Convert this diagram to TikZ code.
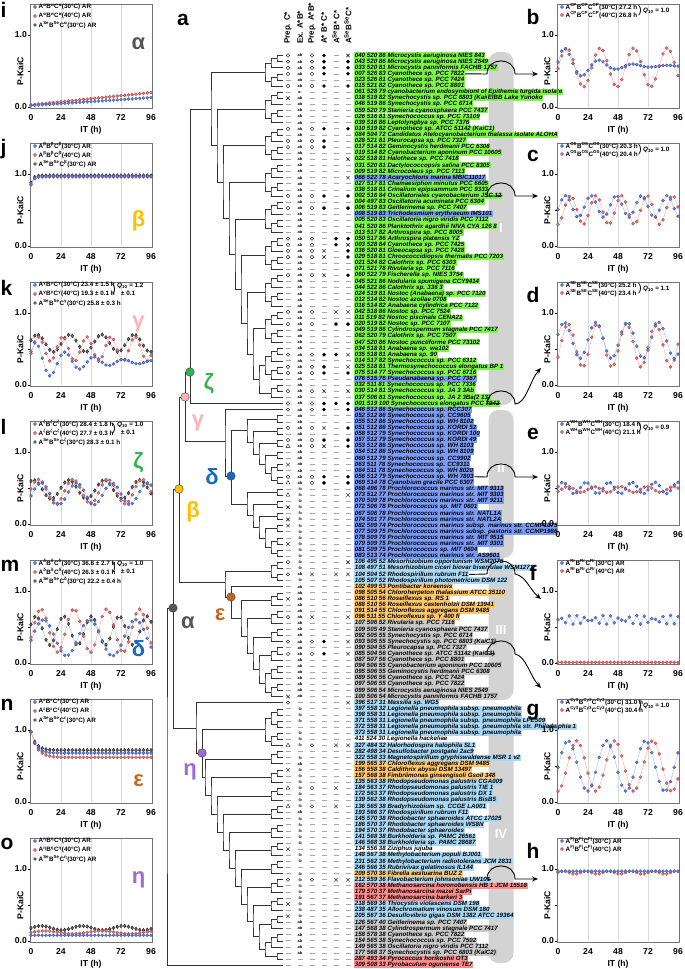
\documentclass[tikz,border=0pt]{standalone}
\usepackage{fontspec}
\setmainfont{Liberation Sans}
\usetikzlibrary{calc,positioning,arrows.meta,shapes.misc,shapes.geometric,plotmarks}
\definecolor{bgG}{HTML}{7DF547}
\definecolor{bgB}{HTML}{7B9BF5}
\definecolor{bgL}{HTML}{A9D8F5}
\definecolor{bgO}{HTML}{FFC76B}
\definecolor{bgY}{HTML}{C9C9C9}
\definecolor{bgR}{HTML}{FF8C8C}
\definecolor{bgW}{HTML}{FFFFFF}
\definecolor{kaiblue}{HTML}{5B7FE6}
\definecolor{kaired}{HTML}{F06A6A}
\definecolor{kaigrey}{HTML}{606060}
\definecolor{alphac}{HTML}{555555}
\definecolor{betac}{HTML}{FFBE00}
\definecolor{gammac}{HTML}{FFB3B8}
\definecolor{deltac}{HTML}{1768C2}
\definecolor{epsc}{HTML}{C8641E}
\definecolor{zetac}{HTML}{2DB44B}
\definecolor{etac}{HTML}{9B6BD6}
\definecolor{barg}{HTML}{D3D3D3}
\def\leafx{283}
\def\rowtop{55.5}
\def\rowgap{6.105}
\def\cladestep{6}
\def\symta{ab}
\def\symtb{-b}
\def\symtc{a-}
\newcommand\su[1]{\textsuperscript{#1}}
\newcommand\qten{\textit{Q}\textsubscript{10}}
% tree helpers: leaves on the right, one row each
\newcommand\leaf[1]{%
  \coordinate (n#1-#1) at (\leafx,{\rowtop+\rowgap*(#1-1)});%
  \expandafter\xdef\csname h#1-#1\endcsname{0}}
\newcommand\join[4]{%
  \pgfmathtruncatemacro\hh{max(\csname h#1-#2\endcsname,\csname h#3-#4\endcsname)+1}%
  \expandafter\xdef\csname h#1-#4\endcsname{\hh}%
  \pgfmathsetmacro\cx{\leafx-\cladestep*\hh}%
  \path let \p1=($(n#1-#2)!.5!(n#3-#4)$) in (\cx pt,\y1) coordinate (n#1-#4);%
  \draw[tree] (n#1-#2) -| (n#1-#4) |- (n#3-#4);}
\newcommand\clade[2]{%
  \ifnum#1=#2\relax \leaf{#1}\else
    \begingroup
    \pgfmathtruncatemacro\ca{floor((#1+#2)/2)}%
    \pgfmathtruncatemacro\cb{\ca+1}%
    \edef\next{\noexpand\clade{#1}{\ca}\noexpand\clade{\cb}{#2}\noexpand\join{#1}{\ca}{\cb}{#2}}\next
    \endgroup
  \fi}
\newcommand\ladder[3]{%
  \ifnum#1=#2\relax \leaf{#1}\else
    \begingroup
    \pgfmathtruncatemacro\ca{min(#1+#3-1,#2-1)}%
    \pgfmathtruncatemacro\cb{\ca+1}%
    \edef\next{\noexpand\clade{#1}{\ca}\noexpand\ladder{\cb}{#2}{#3}\noexpand\join{#1}{\ca}{\cb}{#2}}\next
    \endgroup
  \fi}
% axes of one kinetics panel
\newcommand\panelframe{%
  \foreach \t in {24,48,72} \draw[gridl] (\t,0) -- (\t,1.42);
  \draw[draw=black!55,line width=.5pt] (-1,-.02) rectangle (97,1.43);
  \foreach \v in {0,.5,1} \draw[line width=.5pt] (-1,\v) -- (-2.6,\v);
  \foreach \t in {0,24,48,72,96} \node[tickl,anchor=north] at (\t,-.09) {\t};
  \node[tickl,anchor=east] at (-2.4,0) {0.0};
  \node[tickl,anchor=east] at (-2.4,1) {1.0};
  \node[tickl] at (48,-.32) {IT (h)};
  \node[tickl,rotate=90] at (-8.5,.5) {P-KaiC};
}

\begin{document}
\begin{tikzpicture}[x=1pt,y=-1pt,>=Stealth,
  tree/.style={draw=black!80,line width=.45pt},
  dot/.style={circle,draw=black!75,line width=.4pt,fill=#1,minimum size=8.5pt,inner sep=0pt},
  greek/.style={text=#1,font=\fontsize{22}{22}\selectfont\bfseries,inner sep=0pt},
  taxon/.style={anchor=west,inner xsep=.6pt,inner ysep=.2pt,text height=4.5pt,text depth=1.2pt,
    font=\fontsize{6.2}{6.2}\selectfont\bfseries\itshape},
  head/.style={rotate=90,anchor=west,inner sep=0pt,font=\fontsize{8}{8}\selectfont\bfseries},
  seg/.style={fill=barg,rounded corners=10pt},
  roman/.style={text=white,inner sep=0pt,font=\fontsize{13}{13}\selectfont\bfseries},
  sym o/.style={circle,draw,line width=.35pt,minimum size=3.6pt,inner sep=0pt},
  sym f/.style={circle,fill,minimum size=3.8pt,inner sep=0pt},
  sym x/.style={cross out,draw,line width=.4pt,minimum size=3pt,inner sep=0pt},
  sym t/.style={regular polygon,regular polygon sides=3,draw,line width=.35pt,minimum size=4.6pt,inner sep=0pt},
  sym d/.style={rectangle,fill=gray!70,minimum width=5pt,minimum height=.6pt,inner sep=0pt},
  sym a/.style={inner sep=0pt,font=\fontsize{4}{4}\selectfont\bfseries},
  sym b/.style={inner sep=0pt,font=\fontsize{4}{4}\selectfont\bfseries},
  sym c/.style={inner sep=0pt,font=\fontsize{4}{4}\selectfont\bfseries},
  plab/.style={font=\fontsize{21}{21}\selectfont\bfseries,inner sep=0pt},
  tickl/.style={font=\fontsize{8.6}{9}\selectfont\bfseries,inner sep=1pt},
  leg/.style={anchor=west,inner sep=0pt,font=\fontsize{6.3}{6.3}\selectfont\bfseries},
  brace/.style={inner sep=0pt,font=\fontsize{11}{11}\selectfont},
  gridl/.style={draw=black!15,line width=.8pt},
  bser/.style={draw=kaiblue!55,line width=.4pt,mark=*,mark size=1.6pt,mark options={fill=kaiblue,draw=kaiblue!60!black,line width=.2pt}},
  rser/.style={draw=kaired!60,line width=.4pt,mark=*,mark size=1.6pt,mark options={fill=kaired,draw=kaired!60!black,line width=.2pt}},
  gser/.style={draw=kaigrey!50,line width=.4pt,mark=diamond*,mark size=1.9pt,mark options={fill=kaigrey,draw=black,line width=.2pt}},
  bmark/.style={circle,fill=kaiblue,draw=kaiblue!60!black,line width=.2pt,minimum size=3.4pt,inner sep=0pt},
  rmark/.style={circle,fill=kaired,draw=kaired!60!black,line width=.2pt,minimum size=3.4pt,inner sep=0pt},
  gmark/.style={diamond,fill=kaigrey,minimum size=4pt,inner sep=0pt},
  link/.style={draw=black,line width=.9pt,-{Stealth[length=6pt,width=5pt]}}]
\useasboundingbox (0,0) rectangle (685,969);

% grey bar with the four groups
\foreach \rn/\ya/\yb/\yr in {I/52/405/228,II/410/558/468,III/564/700/630,IV/706/963/834}{
  \fill[seg] (488.5,\ya) rectangle (513.5,\yb);
  \node[roman] (grp\rn) at (501,\yr) {\rn};
}

% column heads
\node[plab] (laba) at (183,20) {a};
\foreach \hx/\htext in {288/{Prep. C*},300/{Ex. A*B*},312/{Prep. A*B*},324/{A* B* C*},336/{A\su{Se}B* C*},348/{A\su{Se}B\su{Se}C*}}
  \node[head] at (\hx,44) {\htext};

% taxa, kai genes and the highlights
\foreach \bg/\sy/\tx [count=\r] in {
 G/{o,a,o,f,d,x}/{040 520 86 Microcystis aeruginosa NIES 843},
 G/{o,a,o,f,d,f}/{043 520 86 Microcystis aeruginosa NIES 2549},
 G/{o,a,o,f,d,f}/{033 520 81 Microcystis panniformis FACHB 1757},
 G/{o,a,o,f,d,f}/{007 526 83 Cyanothece sp. PCC 7822},
 G/{d,a,d,d,d,d}/{023 526 81 Cyanothece sp. PCC 7424},
 G/{o,a,o,f,d,f}/{015 521 82 Cyanothece sp. PCC 8801},
 G/{d,c,d,d,d,d}/{061 528 79 cyanobacterium endosymbiont of Epithemia turgida isolate},
 G/{x,a,d,d,d,d}/{018 519 82 Synechocystis sp. PCC 6803 (KaiC1)},
 G/{d,a,d,d,d,d}/{046 519 86 Synechocystis sp. PCC 6714},
 G/{d,a,d,d,d,d}/{059 520 79 Stanieria cyanosphaera PCC 7437},
 G/{d,a,d,d,d,d}/{026 516 81 Synechococcus sp. PCC 73109},
 G/{d,a,d,d,d,d}/{039 516 86 Leptolyngbya sp. PCC 7376},
 G/{o,a,o,f,d,f}/{010 519 82 Cyanothece sp. ATCC 51142 (KaiC1)},
 G/{d,a,d,d,d,d}/{084 504 72 Candidatus Atelocyanobacterium thalassa isolate ALOHA},
 G/{o,a,o,f,d,d}/{028 521 81 Pleurocapsa sp. PCC 7327},
 G/{o,a,o,f,d,d}/{017 514 82 Geminocystis herdmanii PCC 6308},
 G/{d,a,d,d,d,d}/{019 514 82 Cyanobacterium aponinum PCC 10605},
 G/{d,a,d,d,d,x}/{022 518 81 Halothece sp. PCC 7418},
 G/{d,a,d,d,d,d}/{031 520 81 Dactylococcopsis salina PCC 8305},
 G/{d,a,d,d,d,d}/{009 519 82 Microcoleus sp. PCC 7113},
 B/{d,a,d,d,d,x}/{066 522 78 Acaryochloris marina MBIC11017},
 G/{d,a,d,d,d,d}/{027 517 81 Chamaesiphon minutus PCC 6605},
 G/{d,a,d,d,d,d}/{038 518 81 Crinalium epipsammum PCC 9333},
 G/{o,a,o,f,d,f}/{002 516 84 Oscillatoriales cyanobacterium JSC 12},
 G/{d,a,d,d,d,d}/{004 497 83 Oscillatoria acuminata PCC 6304},
 G/{o,a,o,f,d,f}/{006 519 83 Geitlerinema sp. PCC 7407},
 B/{d,a,d,d,d,d}/{008 519 83 Trichodesmium erythraeum IMS101},
 G/{d,a,d,d,d,d}/{005 520 83 Oscillatoria nigro viridis PCC 7112},
 G/{d,a,d,d,d,d}/{041 520 86 Planktothrix agardhii NIVA CYA 126 8},
 G/{d,a,d,d,d,d}/{013 517 82 Arthrospira sp. PCC 8005},
 G/{o,a,o,d,f,f}/{050 517 86 Arthrospira platensis YZ},
 G/{o,a,o,d,f,x}/{003 528 84 Cyanothece sp. PCC 7425},
 G/{o,a,o,x,d,f}/{036 520 81 Gloeocapsa sp. PCC 7428},
 G/{o,a,o,x,d,f}/{029 518 81 Chroococcidiopsis thermalis PCC 7203},
 G/{d,a,d,d,d,d}/{021 524 82 Calothrix sp. PCC 6303},
 G/{d,a,d,d,d,d}/{071 521 78 Rivularia sp. PCC 7116},
 G/{o,a,o,x,d,f}/{060 522 79 Fischerella sp. NIES 3754},
 G/{d,a,d,d,d,d}/{045 521 86 Nodularia spumigena CCY9414},
 G/{d,a,d,d,d,d}/{044 522 86 Calothrix sp. 336 3},
 G/{d,a,d,d,d,d}/{024 519 81 Nostoc (Anabaena) sp. PCC 7120},
 G/{d,a,d,d,d,d}/{012 514 82 Nostoc azollae 0708},
 G/{d,a,d,d,d,d}/{016 514 82 Anabaena cylindrica PCC 7122},
 G/{o,a,o,d,x,x}/{042 518 86 Nostoc sp. PCC 7524},
 G/{d,a,d,d,d,d}/{011 519 82 Nostoc piscinale CENA21},
 G/{o,a,o,d,f,f}/{020 519 82 Nostoc sp. PCC 7107},
 G/{d,a,d,d,d,d}/{049 519 86 Cylindrospermum stagnale PCC 7417},
 G/{d,a,d,d,d,d}/{062 520 79 Calothrix sp. PCC 7507},
 G/{d,a,d,d,d,d}/{047 520 86 Nostoc punctiforme PCC 73102},
 G/{d,a,d,d,d,d}/{034 518 81 Anabaena sp. wa102},
 G/{o,a,o,f,f,x}/{035 518 81 Anabaena sp. 90},
 G/{d,a,d,d,d,d}/{014 517 82 Synechococcus sp. PCC 6312},
 G/{o,a,o,f,d,x}/{025 518 81 Thermosynechococcus elongatus BP 1},
 G/{o,a,o,f,d,f}/{075 514 77 Synechococcus sp. PCC 6716},
 B/{d,a,d,d,d,d}/{076 515 76 Pseudanabaena sp. PCC 7367},
 G/{d,a,d,d,d,d}/{032 511 81 Synechococcus sp. PCC 7336},
 G/{o,a,o,x,d,x}/{030 514 81 Synechococcus sp. JA 3 3Ab},
 G/{d,a,d,d,d,d}/{037 506 81 Synechococcus sp. JA 2 3Ba(2 13)},
 G/{o,a,o,f,f,f}/{001 519 100 Synechococcus elongatus PCC 7942},
 B/{o,a,o,f,d,f}/{046 512 86 Synechococcus sp. RCC307},
 B/{d,a,d,d,d,d}/{052 512 86 Synechococcus sp. CC9605},
 B/{d,a,d,d,d,d}/{055 512 86 Synechococcus sp. WH 8102},
 B/{o,a,o,x,d,f}/{051 512 86 Synechococcus sp. KORDI 52},
 B/{d,a,d,d,d,d}/{058 512 79 Synechococcus sp. KORDI 100},
 B/{o,a,o,f,d,f}/{057 512 79 Synechococcus sp. KORDI 49},
 B/{t,a,o,x,d,f}/{053 512 86 Synechococcus sp. WH 8103},
 B/{d,a,d,d,d,d}/{054 512 86 Synechococcus sp. WH 8109},
 B/{d,a,d,d,d,d}/{060 512 79 Synechococcus sp. CC9902},
 B/{x,a,d,d,d,d}/{063 511 78 Synechococcus sp. CC9311},
 B/{d,a,d,d,d,d}/{064 511 78 Synechococcus sp. WH 8020},
 B/{o,a,o,f,d,f}/{056 512 79 Synechococcus sp. WH 7803},
 B/{t,a,o,f,d,f}/{069 514 78 Cyanobium gracile PCC 6307},
 B/{d,b,d,d,d,d}/{068 496 78 Prochlorococcus marinus str. MIT 9313},
 B/{t,b,d,d,d,x}/{073 512 77 Prochlorococcus marinus str. MIT 9303},
 B/{d,b,d,d,d,d}/{070 509 78 Prochlorococcus marinus str. MIT 9211},
 B/{x,b,d,d,d,d}/{072 506 78 Prochlorococcus sp. MIT 0601},
 B/{d,b,d,d,d,d}/{067 506 78 Prochlorococcus marinus str. NATL1A},
 B/{x,b,d,d,d,d}/{074 501 77 Prochlorococcus marinus str. NATL2A},
 B/{x,b,d,d,d,d}/{082 509 74 Prochlorococcus marinus subsp. marinus str. CCMP1375},
 B/{d,b,d,d,d,d}/{077 509 75 Prochlorococcus marinus subsp. pastoris str. CCMP1986},
 B/{d,b,d,d,d,d}/{078 509 76 Prochlorococcus marinus str. MIT 9515},
 B/{x,b,d,d,d,d}/{079 509 75 Prochlorococcus marinus str. MIT 9301},
 B/{d,b,d,d,d,d}/{081 509 75 Prochlorococcus sp. MIT 0604},
 B/{d,b,d,d,d,d}/{083 513 74 Prochlorococcus marinus str. AS9601},
 L/{o,b,d,d,d,x}/{106 495 52 Mesorhizobium opportunism WSM2075},
 L/{d,b,d,d,d,d}/{108 497 51 Mesorhizobium ciceri biovar biserrulae WSM1271},
 L/{o,a,x,d,x,x}/{104 504 52 Rhodospirillum rubrum F11},
 L/{d,b,d,d,d,d}/{105 507 52 Rhodospirillum photometricum DSM 122},
 O/{d,a,d,d,d,d}/{102 499 53 Pontibacter koreensis},
 O/{d,a,d,d,d,d}/{098 505 54 Chloroherpeton thalassium ATCC 35110},
 O/{x,a,d,d,d,d}/{086 510 56 Roseiflexus sp. RS 1},
 O/{d,a,d,d,d,d}/{088 510 56 Roseiflexus castenholzii DSM 13941},
 O/{d,a,d,d,d,d}/{091 514 55 Chloroflexus aggregans DSM 9485},
 O/{o,a,x,d,d,x}/{096 511 55 Chloroflexus sp. Y 400 fl},
 Y/{d,a,d,d,d,d}/{107 506 52 Rivularia sp. PCC 7116},
 Y/{d,a,d,d,d,d}/{109 505 49 Stanieria cyanosphaera PCC 7437},
 Y/{d,a,d,d,d,d}/{092 505 55 Synechocystis sp. PCC 6714},
 Y/{o,a,o,f,d,x}/{093 505 55 Synechocystis sp. PCC 6803 (KaiC3)},
 Y/{d,a,d,d,d,d}/{090 504 55 Pleurocapsa sp. PCC 7327},
 Y/{o,a,o,f,d,x}/{085 504 56 Cyanothece sp. ATCC 51142 (KaiC3)},
 Y/{d,a,d,d,d,d}/{087 507 56 Cyanothece sp. PCC 8801},
 Y/{d,a,d,d,d,d}/{094 506 55 Cyanobacterium aponinum PCC 10605},
 Y/{d,a,d,d,d,d}/{095 506 55 Geminocystis herdmanii PCC 6308},
 Y/{d,a,d,d,d,d}/{089 506 56 Cyanothece sp. PCC 7424},
 Y/{d,a,d,d,d,d}/{097 506 55 Cyanothece sp. PCC 7822},
 Y/{d,a,d,d,d,d}/{099 506 54 Microcystis aeruginosa NIES 2549},
 Y/{x,a,d,d,d,d}/{100 506 54 Microcystis panniformis FACHB 1757},
 L/{o,d,d,d,d,x}/{396 517 31 Massilia sp. WG5},
 L/{d,b,d,d,d,d}/{397 558 32 Legionella pneumophila subsp. pneumophila},
 L/{d,b,d,d,d,d}/{398 558 31 Legionella pneumophila subsp. pneumophila},
 L/{d,b,d,d,d,d}/{371 558 31 Legionella pneumophila subsp. pneumophila LPE509},
 L/{d,d,d,d,d,d}/{372 558 31 Legionella pneumophila subsp. pneumophila str. Philadelphia 1},
 L/{d,b,d,d,d,d}/{373 558 31 Legionella pneumophila subsp. pneumophila},
 W/{d,b,d,d,d,d}/{411 524 30 Legionella hackeliae},
 L/{t,b,o,d,x,x}/{327 484 32 Halorhodospira halophila SL1},
 L/{d,d,d,d,d,d}/{282 498 34 Desulfobacter postgatei 2ac9},
 L/{d,b,d,d,d,d}/{322 558 33 Magnetospirillum gryphiswaldense MSR 1 v2},
 O/{d,a,d,d,d,d}/{199 565 37 Chloroflexus aggregans DSM 9485},
 O/{x,b,d,d,d,d}/{156 558 38 Caldithrix abyssi DSM 13497},
 O/{d,b,d,d,d,d}/{157 568 38 Fimbriimonas ginsengisoli Gsoil 348},
 L/{d,b,d,d,d,d}/{135 563 38 Rhodopseudomonas palustris CGA009},
 L/{t,b,o,d,x,d}/{184 563 37 Rhodopseudomonas palustris TIE 1},
 L/{d,b,d,d,d,d}/{172 563 37 Rhodopseudomonas palustris DX 1},
 L/{d,b,d,d,d,d}/{139 562 38 Rhodopseudomonas palustris BisB5},
 L/{t,b,o,d,x,d}/{136 565 38 Bradyrhizobium sp. CCGE LA001},
 L/{d,a,d,d,d,d}/{193 566 37 Rhodospirillum rubrum F11},
 L/{d,b,d,d,d,d}/{145 570 38 Rhodobacter sphaeroides ATCC 17025},
 L/{d,b,d,d,d,d}/{186 570 37 Rhodobacter sphaeroides WS8N},
 L/{d,b,d,d,d,d}/{194 570 37 Rhodobacter sphaeroides},
 L/{d,b,d,d,d,d}/{141 568 38 Burkholderia sp. PAMC 26561},
 L/{d,b,d,d,d,d}/{146 568 38 Burkholderia sp. PAMC 28687},
 W/{x,d,d,d,d,d}/{134 556 38 Ziziphus jujuba},
 L/{d,b,d,d,d,d}/{148 567 38 Methylobacterium populi BJ001},
 L/{d,b,d,d,d,d}/{231 562 36 Methylobacterium radiotolerans JCM 2831},
 L/{d,d,d,d,d,d}/{246 566 35 Rubrivivax gelatinosus IL144},
 O/{d,b,d,d,d,d}/{209 570 36 Fibrella aestuarina BUZ 2},
 L/{o,b,o,d,x,x}/{212 559 36 Flavobacterium johnsoniae UW101},
 R/{d,b,d,d,d,d}/{162 570 38 Methanosarcina horonobensis HB 1 JCM 15518},
 R/{d,b,d,d,d,d}/{179 570 37 Methanosarcina mazei SarPi},
 R/{d,b,d,d,d,d}/{191 567 37 Methanosarcina barkeri 3},
 L/{x,b,d,d,d,d}/{218 569 36 Thiocystis violascens DSM 198},
 L/{d,b,d,d,d,d}/{238 487 35 Allochromatium vinosum DSM 180},
 L/{x,b,d,d,d,d}/{205 567 36 Desulfovibrio gigas DSM 1382 ATCC 19364},
 Y/{d,a,d,d,d,d}/{126 567 40 Geitlerinema sp. PCC 7407},
 Y/{d,a,d,d,d,d}/{147 568 38 Cylindrospermum stagnale PCC 7417},
 Y/{d,a,d,d,d,d}/{158 578 38 Cyanothece sp. PCC 7822},
 Y/{d,a,d,d,d,d}/{154 565 38 Synechococcus sp. PCC 7502},
 Y/{d,a,d,d,d,d}/{149 565 38 Oscillatoria nigro viridis PCC 7112},
 Y/{d,a,d,d,d,d}/{177 568 37 Synechocystis sp. PCC 6803 (KaiC2)},
 R/{d,d,d,d,d,d}/{287 493 34 Pyrococcus horikoshii OT3},
 R/{d,d,d,d,d,d}/{309 508 33 Pyrobaculum oguniense TE7}}{
  \pgfmathsetmacro\yy{\rowtop+\rowgap*(\r-1)}
  \node[taxon,fill=bg\bg] (t\r) at (354,\yy) {\tx};
  \foreach \s [count=\c] in \sy {
    \pgfmathsetmacro\xx{{288,300,312,324,336,348}[\c-1]}
    \node[sym \s] (s\r-\c) at (\xx,\yy) {\csname symt\s\endcsname};
  }
}
\node[taxon,fill=bgG] (t8b) at (487,{\rowtop+\rowgap*7}) {EIBB Lake Yunoko};

% tree
\ladder{1}{57}{6}\leaf{58}\leaf{59}
\ladder{60}{71}{2}\ladder{72}{83}{2}
\clade{84}{87}\leaf{88}\ladder{89}{106}{3}
\leaf{107}\clade{108}{114}\ladder{115}{149}{3}\leaf{150}
\node[dot=zetac] (zeta) at (190,372) {};
\node[dot=gammac] (gamma) at (185,397) {};
\coordinate (d0) at (225,441);
\node[dot=deltac] (delta) at (231,476) {};
\node[dot=betac] (beta) at (179,489) {};
\coordinate (p0) at (225,582);
\node[dot=epsc] (eps) at (231,597) {};
\node[dot=alphac] (alpha) at (173,608) {};
\coordinate (q0) at (196,728);
\node[dot=etac] (eta) at (202,753) {};
\coordinate (root) at (167,784);
\draw[tree] (n1-57) -| (zeta) |- (n58-58);
\draw[tree] (zeta) -| (gamma) |- (d0);
\draw[tree] (n59-59) -| (d0) |- (delta);
\draw[tree] (n60-71) -| (delta) |- (n72-83);
\draw[tree] (gamma) -| (beta) |- (p0);
\draw[tree] (n84-87) -| (p0) |- (eps);
\draw[tree] (n88-88) -| (eps) |- (n89-106);
\draw[tree] (beta) -| (alpha) |- (q0);
\draw[tree] (n107-107) -| (q0) |- (eta);
\draw[tree] (n108-114) -| (eta) |- (n115-149);
\draw[tree] (alpha) -| (root) |- (n150-150);
\node[greek=zetac] (zetalab) at (209,384) {ζ};
\node[greek=gammac] (gammalab) at (198,423) {γ};
\node[greek=deltac] (deltalab) at (212,477) {δ};
\node[greek=betac] (betalab) at (193,512) {β};
\node[greek=epsc] (epslab) at (220,615) {ε};
\node[greek=alphac] (alphalab) at (188,623) {α};
\node[greek=etac] (etalab) at (190,772) {η};

% links to the kinetics panels
\coordinate (tob) at (538,74);
\coordinate (toc) at (538,196);
\coordinate (tod) at (541,368);
\coordinate (toe) at (538,477);
\coordinate (tof) at (541,599);
\coordinate (tog) at (541,688);
\coordinate (toh) at (538,879);
\draw[link] (t4.east) -- (487,74) to[out=90,in=90,looseness=1.6] (515,74) -- (tob);
\draw[link] (t24.east) -- (487,196) to[out=90,in=90,looseness=1.6] (515,196) -- (toc);
\draw[link] (t58.east) -- (487,404) to[out=90,in=90,looseness=1.6] (515,404) .. controls (526,404) and (530,380) .. (tod);
\draw[link] (t70.east) -- (487,477) to[out=90,in=90,looseness=1.6] (515,477) -- (toe);
\draw[link] (t86.east) -- (487,574) to[out=90,in=90,looseness=1.6] (515,574) .. controls (526,576) and (530,590) .. (tof);
\draw[link] (t99.east) -- (487,654) to[out=90,in=90,looseness=1.6] (515,654) .. controls (526,656) and (530,676) .. (tog);
\draw[link] (t136.east) -- (487,879) to[out=90,in=90,looseness=1.6] (515,879) -- (toh);

% left column of panels
\foreach \k/\lab in {0/i,1/j,2/k,3/l,4/m,5/n,6/o}{
  \pgfmathsetmacro\yo{107+139*\k}
  \node[plab,anchor=west] (p\lab) at (0.5,\yo-97) {\lab};
  \begin{scope}[shift={(31,\yo)},x=1.25pt,y=72pt]
    \panelframe
  \end{scope}
}
% right column of panels
\foreach \k/\lab in {0/b,1/c,2/d,3/e,4/f,5/g,6/h}{
  \pgfmathsetmacro\yo{107+139*\k}
  \node[plab] (p\lab) at (533,\yo-90) {\lab};
  \begin{scope}[shift={(558,\yo)},x=1.25pt,y=72pt]
    \panelframe
  \end{scope}
}

% data, left
\begin{scope}[shift={(31,107)},x=1.25pt,y=72pt]
  \draw[rser] plot[domain=0:96,samples=33] (\x,{0.03+0.17*\x/96});
  \draw[bser] plot[domain=0:96,samples=33] (\x,{0.02+0.11*\x/96});
  \node[greek=alphac] at (86,.88) {α};
\end{scope}
\begin{scope}[shift={(31,246)},x=1.25pt,y=72pt]
  \draw[gser] plot[domain=0:96,samples=33] (\x,{0.98-0.1*exp(-\x/2)});
  \draw[rser] plot[domain=0:96,samples=33] (\x,{0.96-0.1*exp(-\x/2)});
  \draw[bser] plot[domain=0:96,samples=33] (\x,{0.97-0.12*exp(-\x/2)});
  \node[greek=betac] at (86,.35) {β};
\end{scope}
\begin{scope}[shift={(31,385)},x=1.25pt,y=72pt]
  \draw[gser] plot[domain=0:96,samples=33] (\x,{0.58+0.12*cos((\x-5)*13.95)});
  \draw[rser] plot[domain=0:96,samples=33] (\x,{0.5+0.17*cos((\x-6)*18.65)});
  \draw[bser] plot[domain=0:96,samples=33] (\x,{0.32+0.3*exp(-\x/35)*cos((\x-4)*15.38)});
  \node[greek=gammac] at (86,.85) {γ};
\end{scope}
\begin{scope}[shift={(31,524)},x=1.25pt,y=72pt]
  \draw[gser] plot[domain=0:96,samples=33] (\x,{0.48+0.13*cos((\x-2)*12.72)});
  \draw[rser] plot[domain=0:96,samples=33] (\x,{0.45+0.17*cos((\x-6)*13.0)});
  \draw[bser] plot[domain=0:96,samples=33] (\x,{0.42+0.15*cos((\x-8)*12.68)});
  \node[greek=zetac] at (86,.85) {ζ};
\end{scope}
\begin{scope}[shift={(31,663)},x=1.25pt,y=72pt]
  \draw[gser] plot[domain=0:96,samples=33] (\x,{0.45+0.2*cos((\x-4)*16.22)});
  \draw[rser] plot[domain=0:96,samples=33] (\x,{0.45+0.3*cos((\x-8)*13.69)});
  \draw[bser] plot[domain=0:96,samples=33] (\x,{0.35+0.25*cos((\x-10)*9.78)});
  \node[greek=deltac] at (86,.2) {δ};
\end{scope}
\begin{scope}[shift={(31,802)},x=1.25pt,y=72pt]
  \draw[gser] plot[domain=0:96,samples=33] (\x,{0.72+0.25*exp(-\x/4)});
  \draw[rser] plot[domain=0:96,samples=33] (\x,{0.62+0.35*exp(-\x/5)});
  \draw[bser] plot[domain=0:96,samples=33] (\x,{0.68+0.3*exp(-\x/4)});
  \node[greek=epsc] at (86,.3) {ε};
\end{scope}
\begin{scope}[shift={(31,941)},x=1.25pt,y=72pt]
  \draw[gser] plot[domain=0:96,samples=33] (\x,{0.18+0.03*sin(\x*11)});
  \draw[rser] plot[domain=0:96,samples=33] (\x,{0.12+0.02*sin(\x*8)});
  \draw[bser] plot[domain=0:96,samples=33] (\x,{0.08});
  \node[greek=etac] at (86,.85) {η};
\end{scope}
% data, right
\begin{scope}[shift={(558,107)},x=1.25pt,y=72pt]
  \draw[rser] plot[domain=0:96,samples=33] (\x,{0.55+0.27*cos((\x-7)*13.43)});
  \draw[bser] plot[domain=0:96,samples=33] (\x,{0.57+0.3*exp(-\x/25)*cos((\x-6)*13.24)});
\end{scope}
\begin{scope}[shift={(558,246)},x=1.25pt,y=72pt]
  \draw[rser] plot[domain=0:96,samples=33] (\x,{0.5+0.2*cos((\x-10)*17.65)});
  \draw[bser] plot[domain=0:96,samples=33] (\x,{0.55+0.15*cos((\x-6)*17.73)});
\end{scope}
\begin{scope}[shift={(558,385)},x=1.25pt,y=72pt]
  \draw[rser] plot[domain=0:96,samples=33] (\x,{0.55+0.3*cos((\x-8)*15.38)});
  \draw[bser] plot[domain=0:96,samples=33] (\x,{0.62+0.25*cos((\x-5)*14.29)});
\end{scope}
\begin{scope}[shift={(558,524)},x=1.25pt,y=72pt]
  \draw[rser] plot[domain=0:96,samples=33] (\x,{0.48+0.04*cos((\x-8)*17.06)});
  \draw[bser] plot[domain=0:96,samples=33] (\x,{0.5+0.08*cos((\x-4)*19.57)});
\end{scope}
\begin{scope}[shift={(558,663)},x=1.25pt,y=72pt]
  \draw[rser] plot[domain=0:96,samples=33] (\x,{0.01});
  \draw[bser] plot[domain=0:96,samples=33] (\x,{0.6+0.06*sin(\x*53)});
\end{scope}
\begin{scope}[shift={(558,802)},x=1.25pt,y=72pt]
  \draw[rser] plot[domain=0:96,samples=33] (\x,{0.5+0.35*cos((\x-15)*11.84)});
  \draw[bser] plot[domain=0:96,samples=33] (\x,{0.5+0.35*cos((\x-8)*11.61)});
\end{scope}
\begin{scope}[shift={(558,941)},x=1.25pt,y=72pt]
  \draw[rser] plot[domain=0:96,samples=33] (\x,{0.95+0.02*sin(\x*20)});
  \draw[bser] plot[domain=0:96,samples=33] (\x,{0.97});
\end{scope}

% legends
\foreach \px/\yo/\ta/\tb/\tc in {
  31/107/{A\su{α}B\su{α}C\su{α}(30°C)  AR}/{A\su{α}B\su{α}C\su{α}(40°C)  AR}/{A\su{Se}B\su{Se}C\su{α}(30°C)  AR},
  31/246/{A\su{β}B\su{β}C\su{β}(30°C)  AR}/{A\su{β}B\su{β}C\su{β}(40°C)  AR}/{A\su{Se}B\su{Se}C\su{β}(30°C)  AR},
  31/385/{A\su{γ}B\su{γ}C\su{γ}(30°C) 23.4 ± 1.5 h}/{A\su{γ}B\su{γ}C\su{γ}(40°C) 19.3 ± 0.1 h}/{A\su{Se}B\su{Se}C\su{γ}(30°C) 25.8 ± 0.3 h},
  31/524/{A\su{ζ}B\su{ζ}C\su{ζ}(30°C) 28.4 ± 1.8 h}/{A\su{ζ}B\su{ζ}C\su{ζ}(40°C) 27.7 ± 0.3 h}/{A\su{Se}B\su{Se}C\su{ζ}(30°C) 28.3 ± 0.1 h},
  31/663/{A\su{δ}B\su{δ}C\su{δ}(30°C) 36.8 ± 2.7 h}/{A\su{δ}B\su{δ}C\su{δ}(40°C) 26.3 ± 0.1 h}/{A\su{Se}B\su{Se}C\su{δ}(30°C) 22.2 ± 0.4 h},
  31/802/{A\su{ε}B\su{ε}C\su{ε}(30°C)  AR}/{A\su{ε}B\su{ε}C\su{ε}(40°C)  AR}/{A\su{Se}B\su{Se}C\su{ε}(30°C)  AR},
  31/941/{A\su{η}B\su{η}C\su{η}(30°C)  AR}/{A\su{η}B\su{η}C\su{η}(40°C)  AR}/{A\su{Se}B\su{Se}C\su{η}(30°C)  AR}}{
  \node[bmark] at (\px+4,\yo-100) {};
  \node[leg] at (\px+7.5,\yo-100) {\ta};
  \node[rmark] at (\px+4,\yo-91) {};
  \node[leg] at (\px+7.5,\yo-91) {\tb};
  \node[gmark] at (\px+4,\yo-82) {};
  \node[leg] at (\px+7.5,\yo-82) {\tc};
}
\foreach \yo/\qa in {385/{\qten\ = 1.2},524/{\qten\ = 1.0},663/{\qten\ = 1.0}}{
  \node[brace] at (114,\yo-95.5) {)};
  \node[leg] at (117,\yo-99) {\qa};
  \node[leg] at (121,\yo-91.5) {± 0.1};
}
\foreach \yo/\ta/\tb in {
  107/{A\su{CP}B\su{CP}C\su{CP}(30°C) 27.2 h}/{A\su{CP}B\su{CP}C\su{CP}(40°C) 26.8 h},
  246/{A\su{OS}B\su{OS}C\su{OS}(30°C) 20.3 h}/{A\su{OS}B\su{OS}C\su{OS}(40°C) 20.4 h},
  385/{A\su{SE}B\su{SE}C\su{SE}(30°C) 25.2 h}/{A\su{SE}B\su{SE}C\su{SE}(40°C) 23.4 h},
  524/{A\su{WH}B\su{WH}C\su{WH}(30°C) 18.4 h}/{A\su{WH}B\su{WH}C\su{WH}(40°C) 21.1 h},
  663/{A\su{Rr}B\su{Rr}C\su{Rr}(30°C)  AR}/{A\su{Rr}B\su{Rr}C\su{Rr}(40°C)  AR},
  802/{A\su{Cy3}B\su{Cy3}C\su{Cy3}(30°C) 31.0 h}/{A\su{Cy3}B\su{Cy3}C\su{Cy3}(40°C) 30.4 h},
  941/{A\su{Fj}B\su{Fj}C\su{Fj}(30°C)  AR}/{A\su{Fj}B\su{Fj}C\su{Fj}(40°C)  AR}}{
  \node[bmark] at (562,\yo-100) {};
  \node[leg] at (565.5,\yo-100) {\ta};
  \node[rmark] at (562,\yo-92) {};
  \node[leg] at (565.5,\yo-92) {\tb};
}
\foreach \yo/\qa in {107/{1.0},246/{1.0},385/{1.1},524/{0.9},802/{1.0}}{
  \node[brace] at (640,\yo-96) {)};
  \node[leg] at (643,\yo-96) {\qten\ = \qa};
}
\end{tikzpicture}
\end{document}
